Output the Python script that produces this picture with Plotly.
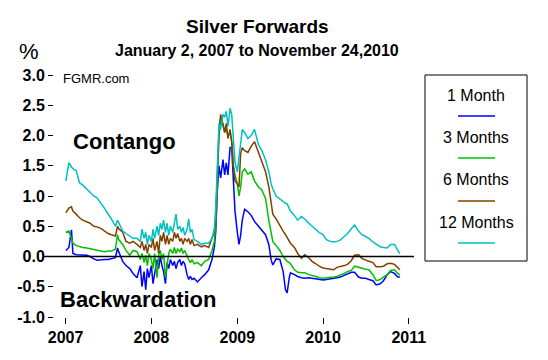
import plotly.graph_objects as go

# ---- dates (segments: 2007, late-2007/2008, autumn 2008 spike, 2009, 2010)
dates = [
    "2007-01-02", "2007-01-15", "2007-01-26", "2007-02-01", "2007-02-15", "2007-03-01", "2007-03-15",
    "2007-04-01", "2007-04-15", "2007-05-01", "2007-05-15", "2007-06-01", "2007-06-15", "2007-07-01",
    "2007-07-15", "2007-08-01", "2007-08-10", "2007-08-15", "2007-09-01", "2007-09-15", "2007-10-01",
    "2007-10-15",
    "2007-11-01", "2007-11-15", "2007-11-22", "2007-12-01", "2007-12-08", "2007-12-15", "2007-12-22",
    "2008-01-01", "2008-01-08", "2008-01-15", "2008-01-25", "2008-02-01", "2008-02-08", "2008-02-15",
    "2008-02-22", "2008-03-01", "2008-03-08", "2008-03-15", "2008-03-22", "2008-04-01", "2008-04-08",
    "2008-04-15", "2008-04-22", "2008-05-01", "2008-05-08", "2008-05-15", "2008-05-22", "2008-06-01",
    "2008-06-08", "2008-06-15", "2008-06-22", "2008-07-01", "2008-07-15", "2008-08-01", "2008-08-15",
    "2008-09-01",
    "2008-09-15", "2008-09-25", "2008-10-01", "2008-10-08", "2008-10-15", "2008-10-22", "2008-11-01",
    "2008-11-08", "2008-11-15", "2008-11-22", "2008-12-01", "2008-12-08", "2008-12-15", "2008-12-22",
    "2009-01-01", "2009-01-08", "2009-01-15", "2009-01-22", "2009-02-01",
    "2009-02-15", "2009-03-01", "2009-03-15", "2009-04-01", "2009-04-15", "2009-05-01", "2009-05-15",
    "2009-05-25", "2009-06-01", "2009-06-15", "2009-07-01", "2009-07-15", "2009-07-25", "2009-08-01",
    "2009-08-10", "2009-08-15", "2009-09-01", "2009-09-15", "2009-10-01", "2009-10-15", "2009-11-01",
    "2009-11-15", "2009-12-01", "2009-12-15",
    "2010-01-01", "2010-01-15", "2010-02-01", "2010-02-15", "2010-03-01", "2010-03-15", "2010-04-01",
    "2010-04-15", "2010-05-01", "2010-05-15", "2010-06-01", "2010-06-15", "2010-07-01", "2010-07-15",
    "2010-08-01", "2010-08-15", "2010-09-01", "2010-09-15", "2010-10-01", "2010-10-15", "2010-11-01",
    "2010-11-15", "2010-11-24",
]

month1 = [
    0.10, 0.15, 0.44, 0.05, 0.03, 0.03, 0.02, 0.02, 0.00, -0.04, -0.06, -0.05, -0.05, -0.05,
    -0.04, -0.02, 0.14, 0.08, -0.08, -0.15, -0.20, -0.28,
    -0.35, -0.15, -0.50, -0.25, -0.55, -0.20, -0.35,
    -0.15, -0.45, -0.30, -0.05, -0.20, 0.00, -0.15, -0.25, -0.45, -0.10, -0.20, -0.05,
    -0.15, -0.08, -0.20, -0.10, -0.05, -0.15, -0.08, -0.12, -0.30, -0.38, -0.33, -0.38,
    -0.36, -0.42, -0.35, -0.30, -0.22,
    -0.05, 0.15, 0.40, 1.10, 1.50, 1.30, 1.60, 1.35, 1.55, 1.35, 1.80, 1.80, 1.35, 0.75,
    0.40, 0.20, 0.35, 0.60, 0.78,
    0.74, 0.68, 0.58, 0.50, 0.44, 0.36, 0.20, -0.06, -0.14, -0.04, -0.05, -0.25, -0.55, -0.60,
    -0.35, -0.27, -0.30, -0.33, -0.35, -0.36, -0.35, -0.36, -0.36, -0.38,
    -0.39, -0.38, -0.37, -0.37, -0.35, -0.34, -0.31, -0.28, -0.26, -0.26, -0.34, -0.36, -0.36, -0.38,
    -0.40, -0.47, -0.45, -0.40, -0.30, -0.25, -0.28, -0.34, -0.34,
]

month3 = [
    0.40, 0.42, 0.30, 0.22, 0.18, 0.16, 0.15, 0.14, 0.13, 0.12, 0.10, 0.09, 0.08, 0.09,
    0.09, 0.12, 0.36, 0.28, 0.20, 0.10, 0.02, 0.10,
    0.08, -0.05, 0.05, -0.10, 0.02, -0.15, 0.05,
    -0.05, -0.20, 0.05, -0.35, 0.02, 0.10, -0.05, 0.05, -0.35, -0.10, 0.05, 0.12,
    0.05, 0.15, 0.05, 0.12, 0.08, 0.14, 0.05, 0.10, 0.00, -0.05, -0.10, -0.05,
    -0.12, -0.10, -0.15, -0.08, -0.05,
    0.10, 0.25, 0.50, 1.20, 2.00, 2.25, 2.20, 2.05, 2.10, 2.00, 2.05, 1.90, 1.50, 1.35,
    1.20, 1.00, 1.15, 1.40, 1.45,
    1.36, 1.40, 1.25, 1.15, 1.10, 0.96, 0.60, 0.35, 0.25, 0.18, 0.10, 0.00, -0.05, -0.08,
    -0.10, -0.12, -0.22, -0.26, -0.27, -0.27, -0.30, -0.31, -0.33, -0.35,
    -0.36, -0.35, -0.35, -0.34, -0.33, -0.31, -0.28, -0.25, -0.23, -0.16, -0.18, -0.20, -0.21, -0.22,
    -0.30, -0.40, -0.38, -0.34, -0.30, -0.23, -0.22, -0.28, -0.31,
]

month6 = [
    0.72, 0.80, 0.82, 0.75, 0.70, 0.64, 0.60, 0.57, 0.55, 0.50, 0.49, 0.46, 0.42, 0.38,
    0.36, 0.34, 0.50, 0.46, 0.40, 0.25, 0.22, 0.25,
    0.20, 0.15, 0.25, 0.10, 0.20, 0.05, 0.20,
    0.15, 0.30, 0.10, 0.25, 0.05, 0.35, 0.25, 0.40, 0.20, 0.35, 0.20, 0.30,
    0.25, 0.40, 0.30, 0.38, 0.25, 0.30, 0.20, 0.30, 0.25, 0.30, 0.20, 0.28,
    0.18, 0.20, 0.16, 0.18, 0.15,
    0.30, 0.40, 0.65, 1.40, 2.10, 2.35, 2.20, 2.05, 2.20, 1.95, 2.10, 1.90, 1.50, 1.25,
    1.20, 1.15, 1.70, 1.80, 1.75,
    1.72, 1.82, 1.90, 1.72, 1.58, 1.40, 1.15, 0.85, 0.70, 0.62, 0.50, 0.42, 0.36, 0.32,
    0.26, 0.22, 0.15, 0.05, -0.03, 0.03, -0.02, -0.08, -0.12, -0.16,
    -0.19, -0.20, -0.22, -0.22, -0.18, -0.17, -0.15, -0.13, -0.07, 0.02, 0.03, -0.03, -0.06, -0.08,
    -0.10, -0.17, -0.17, -0.16, -0.12, -0.11, -0.13, -0.19, -0.22,
]

month12 = [
    1.25, 1.55, 1.48, 1.45, 1.42, 1.22, 1.18, 1.12, 1.06, 1.00, 0.97, 0.88, 0.80, 0.70,
    0.62, 0.50, 0.60, 0.56, 0.42, 0.38, 0.33, 0.30,
    0.30, 0.25, 0.45, 0.30, 0.40, 0.20, 0.35,
    0.25, 0.45, 0.30, 0.50, 0.35, 0.55, 0.45, 0.60, 0.40, 0.55, 0.35, 0.50,
    0.40, 0.55, 0.70, 0.45, 0.50, 0.40, 0.48, 0.35, 0.45, 0.62, 0.40, 0.45,
    0.28, 0.25, 0.20, 0.22, 0.22,
    0.30, 0.45, 0.80, 1.50, 2.20, 2.10, 2.35, 2.30, 2.40, 2.15, 2.45, 2.35, 2.00, 1.56,
    1.40, 1.65, 1.85, 2.10, 2.05,
    1.95, 2.00, 2.10, 1.85, 1.75, 1.60, 1.40, 1.20, 1.12, 1.00, 0.95, 0.90, 0.88, 0.87,
    0.80, 0.75, 0.68, 0.60, 0.66, 0.62, 0.55, 0.50, 0.44, 0.40,
    0.36, 0.28, 0.25, 0.24, 0.25, 0.27, 0.33, 0.38, 0.46, 0.52, 0.42, 0.36, 0.33, 0.30,
    0.24, 0.20, 0.16, 0.15, 0.14, 0.20, 0.20, 0.10, 0.05,
]

series_names = ["1 Month", "3 Months", "6 Months", "12 Months"]
series_colors = ["#0000FF", "#00C000", "#804000", "#00C0C0"]
year_ticks = ["2007-01-01", "2008-01-01", "2009-01-01", "2010-01-01", "2011-01-01"]
year_labels = ["2007", "2008", "2009", "2010", "2011"]
y_ticks = [-1.0, -0.5, 0.0, 0.5, 1.0, 1.5, 2.0, 2.5, 3.0]

# page body has an 8px margin: the figure is drawn 8px right/down from the window corner
OFF = 8
W, H = 548 - OFF, 360 - OFF
FONT = "Liberation Sans, Arial, sans-serif"


def px(x):
    return (x - OFF) / W


def py(y):
    return 1 - (y - OFF) / H


fig = go.Figure()
for name, vals, col in zip(series_names, [month1, month3, month6, month12], series_colors):
    n = min(len(dates), len(vals))
    fig.add_trace(go.Scatter(x=dates[:n], y=vals[:n], mode="lines", name=name,
                             line=dict(color=col, width=1.5), showlegend=False))

fig.update_layout(
    width=W, height=H,
    margin=dict(l=0, r=0, t=0, b=0, pad=0, autoexpand=False),
    paper_bgcolor="white", plot_bgcolor="white",
    font=dict(family=FONT, color="black"),
    xaxis=dict(
        domain=[px(44), px(414)], type="date", automargin=False,
        range=["2006-10-01", "2011-01-23"],
        tickvals=year_ticks, ticktext=year_labels,
        ticks="outside", ticklen=6, tickwidth=1, tickcolor="black",
        showgrid=False, zeroline=False, showline=False,
        tickfont=dict(size=16, family=FONT, color="black", weight="bold"),
    ),
    yaxis=dict(
        domain=[py(317), py(75)], range=[-1.0, 3.0], automargin=False,
        anchor="free", position=px(53),
        tickvals=y_ticks, ticktext=["%.1f" % v for v in y_ticks],
        ticks="outside", ticklen=5, tickwidth=1, tickcolor="black",
        showgrid=False, zeroline=False, showline=False,
        tickfont=dict(size=16, family=FONT, color="black", weight="bold"),
    ),
)

# zero line
fig.add_shape(type="line", xref="paper", yref="y", x0=px(44), x1=px(414), y0=0, y1=0,
              line=dict(color="black", width=1.5), layer="above")


def ann(text, x, y, size, bold=False, xanchor="center"):
    fig.add_annotation(text=text, x=px(x), y=py(y), xref="paper", yref="paper",
                       xanchor=xanchor, yanchor="middle", showarrow=False,
                       font=dict(size=size, family=FONT, color="black",
                                 weight="bold" if bold else "normal"))


ann("Silver Forwards", 257, 26, 19, bold=True)
ann("January 2, 2007 to November 24,2010", 257, 50, 16, bold=True)
ann("%", 29, 51, 22)
ann("FGMR.com", 61, 79, 13, xanchor="left")
ann("Contango", 124, 141, 22, bold=True)
ann("Backwardation", 138, 299, 22, bold=True)

# legend box
fig.add_shape(type="rect", xref="paper", yref="paper", x0=px(425), x1=px(527), y0=py(261), y1=py(75),
              line=dict(color="black", width=1), fillcolor="rgba(0,0,0,0)")
leg_text_y = [95, 137, 179, 222]
leg_line_y = [116, 158, 201, 243]
for name, col, ty, ly in zip(series_names, series_colors, leg_text_y, leg_line_y):
    ann(name, 476, ty, 16)
    fig.add_shape(type="line", xref="paper", yref="paper", x0=px(458), x1=px(495), y0=py(ly), y1=py(ly),
                  line=dict(color=col, width=1.5))

fig.write_html("out.html")
